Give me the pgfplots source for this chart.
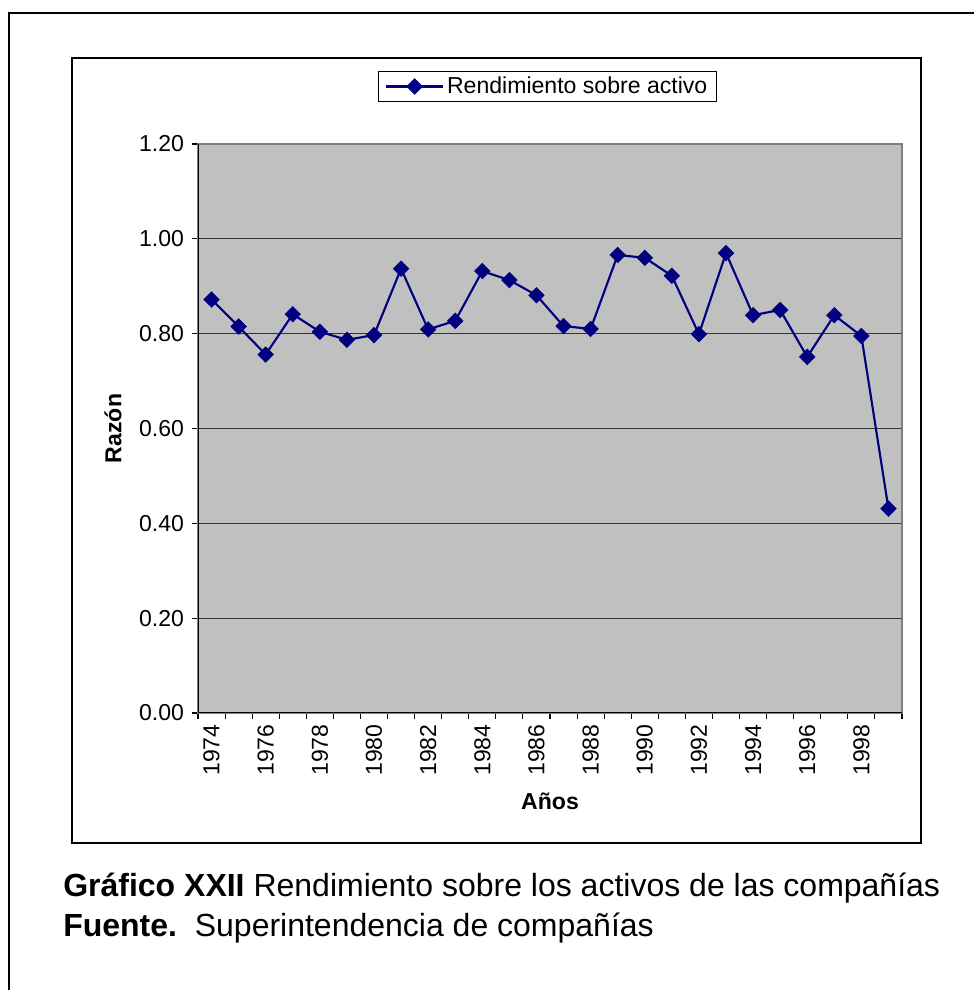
\documentclass[border=0pt]{standalone}
\usepackage{pgfplots}
\pgfplotsset{compat=1.18}
\usepackage{fontspec}
\setmainfont{Liberation Sans}
\definecolor{navyline}{HTML}{000080}
\definecolor{plotbg}{HTML}{C0C0C0}
\definecolor{bordergray}{HTML}{808080}
\pgfplotstableread{
x year value
0 1974 0.872
1 1975 0.815
2 1976 0.756
3 1977 0.841
4 1978 0.804
5 1979 0.787
6 1980 0.797
7 1981 0.937
8 1982 0.809
9 1983 0.827
10 1984 0.932
11 1985 0.913
12 1986 0.881
13 1987 0.816
14 1988 0.810
15 1989 0.966
16 1990 0.960
17 1991 0.922
18 1992 0.799
19 1993 0.970
20 1994 0.839
21 1995 0.850
22 1996 0.751
23 1997 0.839
24 1998 0.795
25 1999 0.431
}\datatable
\begin{document}
\begin{tikzpicture}[x=0.75pt,y=0.75pt]
\useasboundingbox (0,0) rectangle (974,990);
\fill[white] (0,0) rectangle (974,990);
% outer page frame (top and left visible)
\draw[line width=1.2pt] (9,-5) -- (9,977) -- (980,977);
% chart area frame
\draw[line width=1pt] (72,932) rectangle (921,147);
\begin{axis}[
  at={(198pt*0.75,277pt*0.75)}, anchor=south west,
  scale only axis, width=528pt, height=426.75pt,
  xmin=-0.5, xmax=25.5, ymin=0, ymax=1.2,
  axis background/.style={fill=plotbg},
  axis line style={draw=bordergray, line width=0.9pt},
  tick align=outside,
  major tick length=4.5pt,
  tick style={black, line width=0.8pt},
  xtick={-0.5,0.5,...,25.5},
  xticklabels={},
  extra x ticks={0,2,4,6,8,10,12,14,16,18,20,22,24},
  extra x tick labels={1974,1976,1978,1980,1982,1984,1986,1988,1990,1992,1994,1996,1998},
  extra x tick style={major tick length=0pt},
  xtick pos=bottom,
  ytick={0,0.2,0.4,0.6,0.8,1.0,1.2},
  ytick pos=left,
  ymajorgrids,
  grid style={black!80, line width=0.8pt},
  xticklabel style={yshift=-5pt, rotate=90, anchor=east, font=\fontsize{17.3}{20}\selectfont},
  yticklabel style={xshift=-2.5pt, font=\fontsize{17.3}{20}\selectfont},
  /pgf/number format/.cd, fixed, fixed zerofill, precision=2, assume math mode=true,
  /pgfplots/.cd,
  xlabel={\textbf{Años}},
  xlabel style={at={(axis description cs:0.5,-0.156)}, anchor=center, font=\fontsize{17.3}{20}\selectfont},
  ylabel={\textbf{Razón}},
  ylabel style={at={(axis description cs:-0.1207,0.5)}, anchor=center, font=\fontsize{17.3}{20}\selectfont},
  legend style={at={(axis description cs:0.4964,1.101)}, anchor=center, draw=black, fill=white,
    line width=0.8pt, font=\fontsize{17.3}{20}\selectfont, inner xsep=5pt, inner ysep=2.5pt},
  legend image code/.code={\draw[mark repeat=2, mark phase=2] plot coordinates {(0pt,0pt) (21.5pt,0pt) (43pt,0pt)};},
]
\addplot[navyline, line width=1.6pt, mark=square*, mark size=4.1pt,
  mark options={rotate=45, fill=navyline, draw=navyline, line width=0.5pt}]
  table[x=x, y=value] {\datatable};
\addlegendentry{Rendimiento sobre activo}
\draw[black, line width=1pt] (rel axis cs:0,1) -- (rel axis cs:0,0) -- (rel axis cs:1,0);
\end{axis}
\node[anchor=base west, inner sep=0pt, font=\fontsize{24}{28}\selectfont] at (63,93)
  {\textbf{Gráfico XXII} Rendimiento sobre los activos de las compañías};
\node[anchor=base west, inner sep=0pt, font=\fontsize{24}{28}\selectfont] at (63,53)
  {\textbf{Fuente.}\ \ Superintendencia de compañías};
\end{tikzpicture}
\end{document}
